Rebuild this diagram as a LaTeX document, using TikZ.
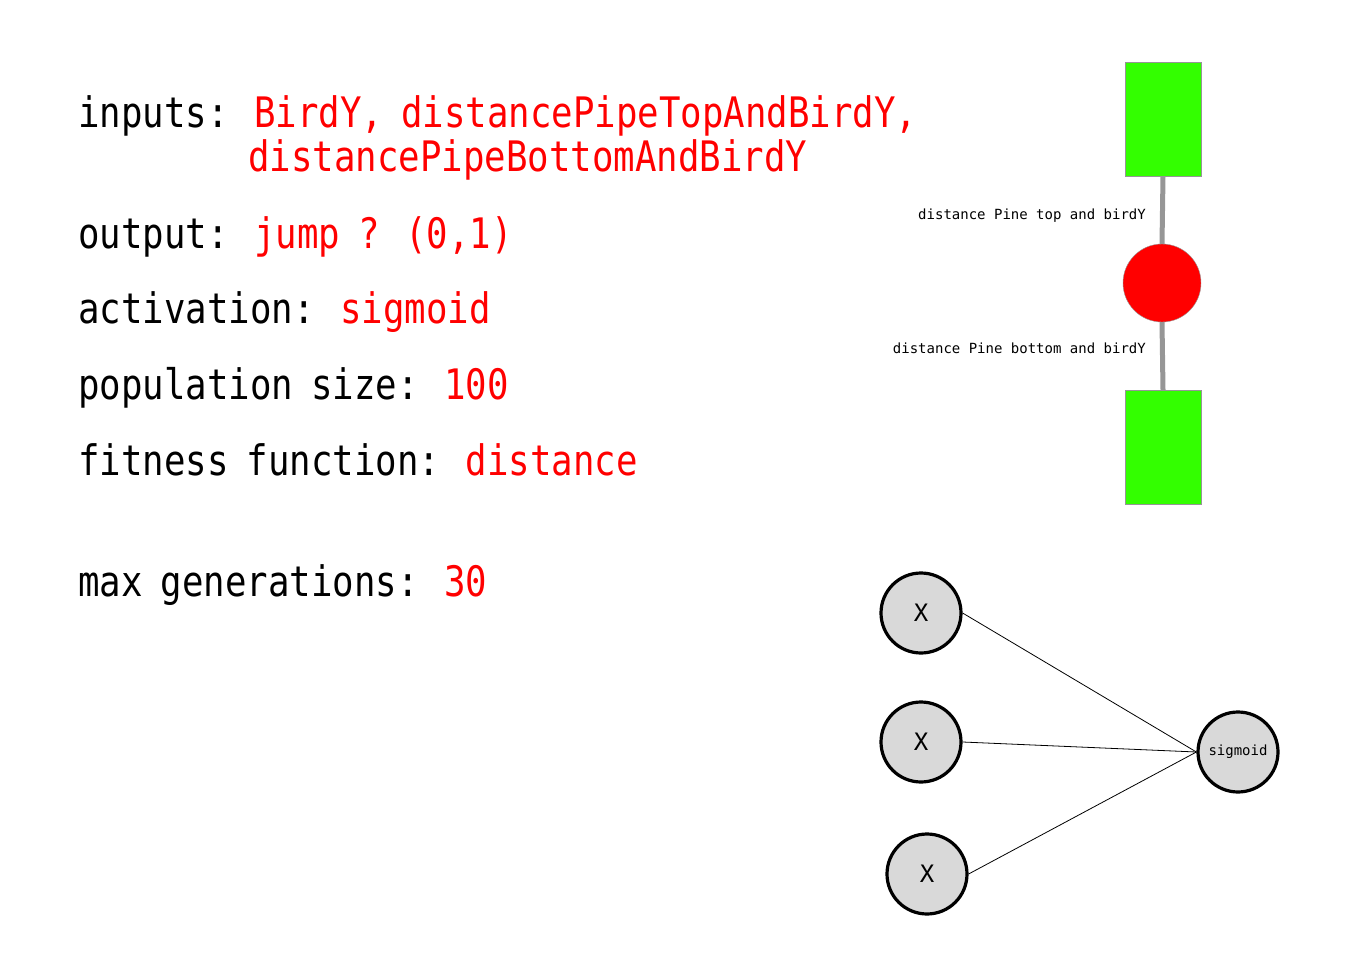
\documentclass[tikz,border=0pt]{standalone}
\usepackage{fontspec}
\usepackage{tikz}
\usetikzlibrary{positioning}
\newfontfamily\codefont{DejaVu Sans Mono}[FakeStretch=0.85,WordSpace=0.85]
\newfontfamily\smallcode{DejaVu Sans Mono}
\definecolor{pipegreen}{RGB}{51,255,0}
\definecolor{neurongray}{RGB}{217,217,217}
\definecolor{rodgray}{RGB}{150,150,150}
\tikzset{
    setting/.style={
                anchor=base west,
                inner sep=0pt,
                font=\codefont\fontsize{42}{44}\selectfont
            },
        value/.style={
                setting,
                text=red
            },
        pipe/.style={
                draw=rodgray,
                fill=pipegreen,
                minimum width=76pt,
                minimum height=114pt,
                inner sep=0pt
            },
        bird/.style={
                circle,
                draw=rodgray,
                fill=red,
                minimum size=78pt,
                inner sep=0pt
            },
        rod/.style={
                draw=rodgray,
                line width=5pt
            },
        gap/.style={
                anchor=base east,
                inner sep=0pt,
                font=\smallcode\fontsize{14}{16}\selectfont
            },
        neuron/.style={
                circle,
                draw=black,
                line width=3.2pt,
                fill=neurongray,
                minimum size=80pt,
                inner sep=0pt,
                font=\smallcode\fontsize{24}{26}\selectfont
            },
        synapse/.style={
                draw=black,
                line width=0.8pt
            },
}

\begin{document}
\begin{tikzpicture}[x=1pt,y=-1pt]
  \useasboundingbox (0,0) rectangle (1366,977);
  % Settings
  \node[setting] (inputs) at (78,127) {inputs: \textcolor{red}{BirdY, distancePipeTopAndBirdY,}};
  \node[value] (inputs2) at (248,171) {distancePipeBottomAndBirdY};
  \node[setting] (output) at (78,248) {output: \textcolor{red}{jump ? (0,1)}};
  \node[setting] (activation) at (78,323) {activation: \textcolor{red}{sigmoid}};
  \node[setting] (population) at (78,399) {population size: \textcolor{red}{100}};
  \node[setting] (fitness) at (78,475) {fitness function: \textcolor{red}{distance}};
  \node[setting] (generations) at (78,596) {max generations: \textcolor{red}{30}};
  % Pipes and bird
  \node[pipe] (toppipe) at (1163,119) {};
  \node[bird] (birdy) at (1162,283) {};
  \node[pipe] (bottompipe) at (1163,447) {};
  \draw[rod] (toppipe.south) -- (birdy.north);
  \draw[rod] (birdy.south) -- (bottompipe.north);
  \node[gap] (toplabel) at (1146,219) {distance Pine top and birdY};
  \node[gap] (bottomlabel) at (1146,353) {distance Pine bottom and birdY};
  % Network
  \node[neuron] (x1) at (921,613) {X};
  \node[neuron] (x2) at (921,742) {X};
  \node[neuron] (x3) at (927,874) {X};
  \node[neuron,font=\smallcode\fontsize{14}{16}\selectfont] (sig) at (1238,752) {sigmoid};
  \draw[synapse] (x1.east) -- (sig.west);
  \draw[synapse] (x2.east) -- (sig.west);
  \draw[synapse] (x3.east) -- (sig.west);
\end{tikzpicture}
\end{document}
